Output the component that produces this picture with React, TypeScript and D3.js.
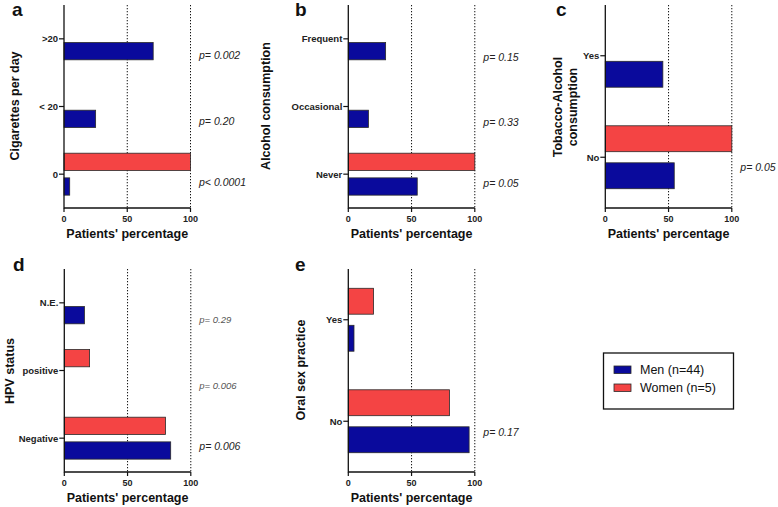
import React from "react";
import * as d3 from "d3";

// ---------- data ----------
const series = ["Women", "Men"];
const legendLabels = ["Men (n=44)", "Women (n=5)"];

const aCategories = [">20", "< 20", "0"];
const aMen = [70.5, 25, 4.5];
const aWomen = [0, 0, 100];
const aP = ["p= 0.002", "p= 0.20", "p< 0.0001"];

const bCategories = ["Frequent", "Occasional", "Never"];
const bMen = [29.5, 15.9, 54.5];
const bWomen = [0, 0, 100];
const bP = ["p= 0.15", "p= 0.33", "p= 0.05"];

const cCategories = ["Yes", "No"];
const cMen = [45.5, 54.5];
const cWomen = [0, 100];
const cP = ["", "p= 0.05"];

const dCategories = ["N.E.", "positive", "Negative"];
const dMen = [15.9, 0, 84.1];
const dWomen = [0, 20, 80];
const dP = ["p= 0.29", "p= 0.006", "p= 0.006"];

const eCategories = ["Yes", "No"];
const eMen = [4.5, 95.5];
const eWomen = [20, 80];
const eP = ["", "p= 0.17"];

const xTicks = [0, 50, 100];

// ---------- layout ----------
const FONT = "'Liberation Sans', Arial, Helvetica, sans-serif";
const BLUE = "#0a0a9c";
const RED = "#f44444";

type PanelDef = {
  letter: string;
  lx: number;
  ly: number;
  x0: number;
  yTop: number;
  yBottom: number;
  categories: string[];
  men: number[];
  women: number[];
  pvals: string[];
  pOffsets: number[];
  pSizes: number[];
  pColors: string[];
  title: string[];
  tx: number;
  ty: number;
};

const panels: PanelDef[] = [
  {
    letter: "a", lx: 12, ly: 16, x0: 64, yTop: 5, yBottom: 208,
    categories: aCategories, men: aMen, women: aWomen, pvals: aP,
    pOffsets: [16, 14, 8], pSizes: [10.5, 10.5, 10.5], pColors: ["#222", "#222", "#222"],
    title: ["Cigarettes per day"], tx: 15, ty: 106,
  },
  {
    letter: "b", lx: 295, ly: 16, x0: 348.3, yTop: 5, yBottom: 208,
    categories: bCategories, men: bMen, women: bWomen, pvals: bP,
    pOffsets: [18, 15, 9], pSizes: [10.5, 10.5, 10.5], pColors: ["#222", "#222", "#222"],
    title: ["Alcohol consumption"], tx: 266, ty: 106,
  },
  {
    letter: "c", lx: 556, ly: 16, x0: 605.3, yTop: 5, yBottom: 208,
    categories: cCategories, men: cMen, women: cWomen, pvals: cP,
    pOffsets: [10, 10], pSizes: [10.5, 10.5], pColors: ["#222", "#222"],
    title: ["Tobacco-Alcohol", "consumption"], tx: 565, ty: 107,
  },
  {
    letter: "d", lx: 13, ly: 271, x0: 64.3, yTop: 269, yBottom: 472,
    categories: dCategories, men: dMen, women: dWomen, pvals: dP,
    pOffsets: [17, 15, 8], pSizes: [9.5, 9.5, 10.5], pColors: ["#555", "#555", "#222"],
    title: ["HPV status"], tx: 10, ty: 371,
  },
  {
    letter: "e", lx: 295, ly: 271, x0: 348.3, yTop: 269, yBottom: 472,
    categories: eCategories, men: eMen, women: eWomen, pvals: eP,
    pOffsets: [10, 11], pSizes: [10.5, 10.5], pColors: ["#222", "#222"],
    title: ["Oral sex practice"], tx: 301, ty: 370,
  },
];

const PLOT_W = 126.5;

function Panel({ p }: { p: PanelDef }) {
  const x = d3.scaleLinear().domain([0, 100]).range([p.x0, p.x0 + PLOT_W]);
  const y = d3.scaleBand<string>().domain(p.categories).range([p.yTop, p.yBottom]).padding(0);
  const B = y.bandwidth();
  const lines = p.title;
  return (
    <g>
      <text x={p.lx} y={p.ly} fontFamily={FONT} fontWeight="bold" fontSize={19} fill="#111">
        {p.letter}
      </text>
      {/* dotted reference lines */}
      {[50, 100].map((v) => (
        <line key={v} x1={x(v)} x2={x(v)} y1={p.yTop} y2={p.yBottom}
          stroke="#111" strokeWidth={1} strokeDasharray="1.3,1.7" />
      ))}
      {/* bars */}
      {p.categories.map((c, i) => {
        const center = (y(c) as number) + B / 2;
        const inner = d3.scaleBand<string>().domain(series)
          .range([center - 0.31 * B, center + 0.31 * B]).paddingInner(0.3).paddingOuter(0);
        const vals: Record<string, number> = { Women: p.women[i], Men: p.men[i] };
        return series.map((s) =>
          vals[s] > 0 ? (
            <rect key={c + s} x={x(0)} y={inner(s) as number}
              width={x(vals[s]) - x(0)} height={inner.bandwidth()}
              fill={s === "Men" ? BLUE : RED} stroke="#2a2a2a" strokeWidth={0.8} />
          ) : null
        );
      })}
      {/* axes */}
      <line x1={p.x0} x2={p.x0} y1={p.yTop} y2={p.yBottom + 0.6} stroke="#111" strokeWidth={1.3} />
      <line x1={p.x0} x2={x(100)} y1={p.yBottom} y2={p.yBottom} stroke="#111" strokeWidth={1.3} />
      {xTicks.map((t) => (
        <g key={t}>
          <line x1={x(t)} x2={x(t)} y1={p.yBottom} y2={p.yBottom + 4} stroke="#111" strokeWidth={1.2} />
          <text x={x(t)} y={p.yBottom + 14} textAnchor="middle" fontFamily={FONT}
            fontWeight="bold" fontSize={9} fill="#222">{t}</text>
        </g>
      ))}
      {p.categories.map((c) => {
        const cy = (y(c) as number) + B / 2;
        return (
          <g key={c}>
            <line x1={p.x0 - 5} x2={p.x0} y1={cy} y2={cy} stroke="#111" strokeWidth={1.2} />
            <text x={p.x0 - 6} y={cy} textAnchor="end" dominantBaseline="central"
              fontFamily={FONT} fontWeight="bold" fontSize={9.5} fill="#222">{c}</text>
          </g>
        );
      })}
      {/* p values */}
      {p.categories.map((c, i) =>
        p.pvals[i] ? (
          <text key={"p" + c} x={p.x0 + 135} y={(y(c) as number) + B / 2 + p.pOffsets[i]}
            dominantBaseline="central" fontFamily={FONT} fontStyle="italic"
            fontSize={p.pSizes[i]} fill={p.pColors[i]}>{p.pvals[i]}</text>
        ) : null
      )}
      {/* titles */}
      <text x={p.x0 + PLOT_W / 2} y={p.yBottom + 30} textAnchor="middle" fontFamily={FONT}
        fontWeight="bold" fontSize={12.5} fill="#111">Patients' percentage</text>
      <g transform={`translate(${p.tx},${p.ty}) rotate(-90)`}>
        {lines.map((l, k) => (
          <text key={l} x={0} y={(k - (lines.length - 1) / 2) * 15} textAnchor="middle"
            dominantBaseline="central" fontFamily={FONT} fontWeight="bold" fontSize={12.5}
            fill="#111">{l}</text>
        ))}
      </g>
    </g>
  );
}

export default function App() {
  const legendColors = [BLUE, RED];
  return (
    <svg width={778} height={507} style={{ position: "absolute", left: 0, top: 0, background: "#fff" }}>
      <rect x={0} y={0} width={778} height={507} fill="#fff" />
      {panels.map((p) => (
        <Panel key={p.letter} p={p} />
      ))}
      <rect x={603.5} y={353} width={130} height={56} fill="#fff" stroke="#111" strokeWidth={1.3} />
      {legendLabels.map((l, i) => (
        <g key={l}>
          <rect x={614} y={366 + i * 18} width={17} height={7.5} fill={legendColors[i]}
            stroke="#2a2a2a" strokeWidth={0.8} />
          <text x={640} y={370 + i * 18} dominantBaseline="central" fontFamily={FONT}
            fontSize={12.5} fill="#111">{l}</text>
        </g>
      ))}
    </svg>
  );
}
